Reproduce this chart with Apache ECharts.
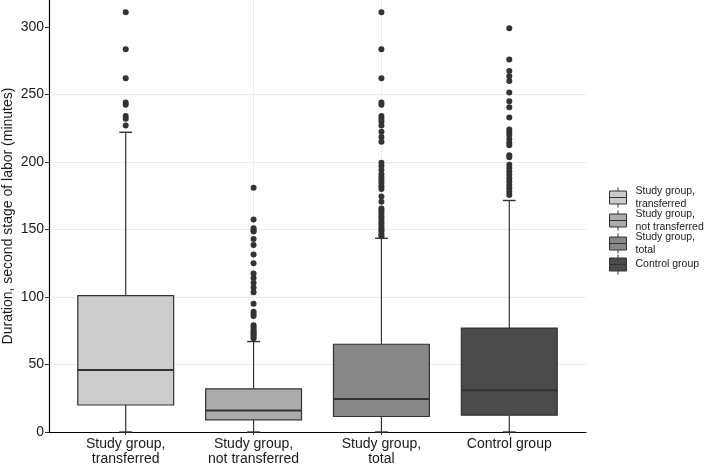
<!DOCTYPE html>
<html>
<head>
<meta charset="utf-8">
<script src="https://cdn.jsdelivr.net/npm/echarts@6/dist/echarts.min.js"></script>
<style>
  html, body { margin: 0; padding: 0; background: #fff; }
  #chart { width: 706px; height: 466px; }
</style>
</head>
<body>
<div id="chart"></div>
<script>
const categories = ['Study group,\ntransferred', 'Study group,\nnot transferred', 'Study group,\ntotal', 'Control group'];
const legendNames = ['Study group,\ntransferred', 'Study group,\nnot transferred', 'Study group,\ntotal', 'Control group'];
const yTicks = [0, 50, 100, 150, 200, 250, 300];

// [lower whisker, q1, median, q3, upper whisker]
const boxTransferred = [0, 20, 46, 101, 222];
const boxNotTransferred = [0, 9, 16, 32, 67];
const boxTotal = [0, 11.5, 24.5, 65, 143.5];
const boxControl = [0, 12.5, 31, 77, 171.5];

const outTransferred = [311, 283.5, 262, 244, 242.5, 234, 232, 227];
const outNotTransferred = [181, 157.5, 151, 149.5, 148.5, 143, 138.5, 131.5, 125, 117.5, 114, 110.5, 107,
  103.5, 95, 89, 87.5, 86, 79, 77.5, 75.5, 74.5, 73, 72, 70.5, 69.5];
const outTotal = [311, 283.5, 262, 244, 242.5, 234, 232, 230, 227, 222.5, 218.5, 215, 199.5, 197, 194, 191,
  188.5, 186.5, 184.5, 182, 180, 174.5, 170.5, 165.5, 164, 162, 160, 158.5, 156.5, 155, 153.5, 151.5, 150,
  148.5, 146.5, 145];
const outControl = [299, 276, 267.5, 263.5, 260, 251.5, 245, 240.5, 233, 224, 222, 220, 217, 214.5, 212.5,
  205, 203.5, 198, 195.5, 193, 190.5, 188, 185.5, 183, 180.5, 178, 175.5];

const boxes = [boxTransferred, boxNotTransferred, boxTotal, boxControl];
const outliers = [outTransferred, outNotTransferred, outTotal, outControl];
const fills = ['#cccccc', '#ababab', '#888888', '#4b4b4b'];
const ink = '#333333';
const textColor = '#1a1a1a';
const gridColor = '#ebebeb';
const halfBox = 0.375;
const halfCap = 0.05;

const chart = echarts.init(document.getElementById('chart'), null, { renderer: 'canvas' });

function renderBox(params, api) {
  const x = api.value(0);
  const lo = api.value(1), q1 = api.value(2), med = api.value(3), q3 = api.value(4), hi = api.value(5);
  const tl = api.coord([x - halfBox, q3]);
  const br = api.coord([x + halfBox, q1]);
  const c = (v) => api.coord([x, v]);
  const medL = api.coord([x - halfBox, med]);
  const medR = api.coord([x + halfBox, med]);
  const capL = (v) => api.coord([x - halfCap, v]);
  const capR = (v) => api.coord([x + halfCap, v]);
  const line = (a, b, w) => ({
    type: 'line',
    shape: { x1: a[0], y1: a[1], x2: b[0], y2: b[1] },
    style: { stroke: ink, lineWidth: w }
  });
  return {
    type: 'group',
    children: [
      line(c(q3), c(hi), 1.2),
      line(c(lo), c(q1), 1.2),
      line(capL(hi), capR(hi), 1.4),
      line(capL(lo), capR(lo), 1.4),
      {
        type: 'rect',
        shape: { x: tl[0], y: tl[1], width: br[0] - tl[0], height: br[1] - tl[1] },
        style: { fill: api.visual('color'), stroke: ink, lineWidth: 1.2 }
      },
      line(medL, medR, 2)
    ]
  };
}

const boxSeries = boxes.map((b, i) => ({
  name: legendNames[i],
  type: 'custom',
  renderItem: renderBox,
  itemStyle: { color: fills[i] },
  encode: { x: 0, y: [1, 2, 3, 4, 5] },
  data: [[i].concat(b)],
  z: 2
}));

const outlierSeries = {
  name: 'outliers',
  type: 'scatter',
  symbolSize: 6,
  itemStyle: { color: ink, opacity: 1 },
  data: outliers.flatMap((arr, i) => arr.map((v) => [i, v])),
  z: 3
};

const keyIcon = 'path://M0,3.5H17V10H0Z M0,10H17V16.5H0Z M8.5,0V3.5 M8.5,16.5V20';

chart.setOption({
  animation: false,
  backgroundColor: '#ffffff',
  textStyle: { fontFamily: 'Liberation Sans, Arial, sans-serif' },
  grid: { left: 49, right: 120, top: 0, bottom: 34, containLabel: false, outerBoundsMode: 'none' },
  legend: {
    orient: 'vertical',
    left: 604,
    top: 180,
    itemWidth: 17,
    itemHeight: 20,
    itemGap: -2,
    selectedMode: false,
    textStyle: { fontSize: 10.5, lineHeight: 12.5, color: textColor, padding: [0, 0, 0, 4] },
    data: legendNames.map((n, i) => ({
      name: n,
      icon: keyIcon,
      itemStyle: { color: fills[i], borderColor: ink, borderWidth: 1 }
    }))
  },
  xAxis: {
    type: 'value',
    min: -0.6,
    max: 3.6,
    axisLine: { show: true, onZero: false, lineStyle: { color: '#000', width: 1.2 } },
    axisTick: { show: true, length: 3, customValues: [0, 1, 2, 3], lineStyle: { color: ink } },
    axisLabel: {
      customValues: [0, 1, 2, 3],
      color: textColor,
      fontSize: 14,
      lineHeight: 15,
      margin: 5,
      formatter: (v) => (Number.isInteger(v) ? categories[v] : '')
    },
    splitLine: { show: true, showMinLine: false, showMaxLine: false, lineStyle: { color: gridColor, width: 1 } }
  },
  yAxis: {
    type: 'value',
    min: 0,
    max: 320,
    interval: 50,
    name: 'Duration, second stage of labor (minutes)',
    nameLocation: 'middle',
    nameRotate: 90,
    nameGap: 34,
    nameMoveOverlap: false,
    nameTextStyle: { color: textColor, fontSize: 14 },
    axisLine: { show: true, onZero: false, lineStyle: { color: '#000', width: 1.2 } },
    axisTick: { show: true, length: 4, customValues: yTicks, lineStyle: { color: ink } },
    axisLabel: { customValues: yTicks, color: textColor, fontSize: 14, margin: 5 },
    splitLine: { show: true, showMaxLine: false, lineStyle: { color: gridColor, width: 1 } }
  },
  series: boxSeries.concat([outlierSeries])
});
</script>
</body>
</html>
